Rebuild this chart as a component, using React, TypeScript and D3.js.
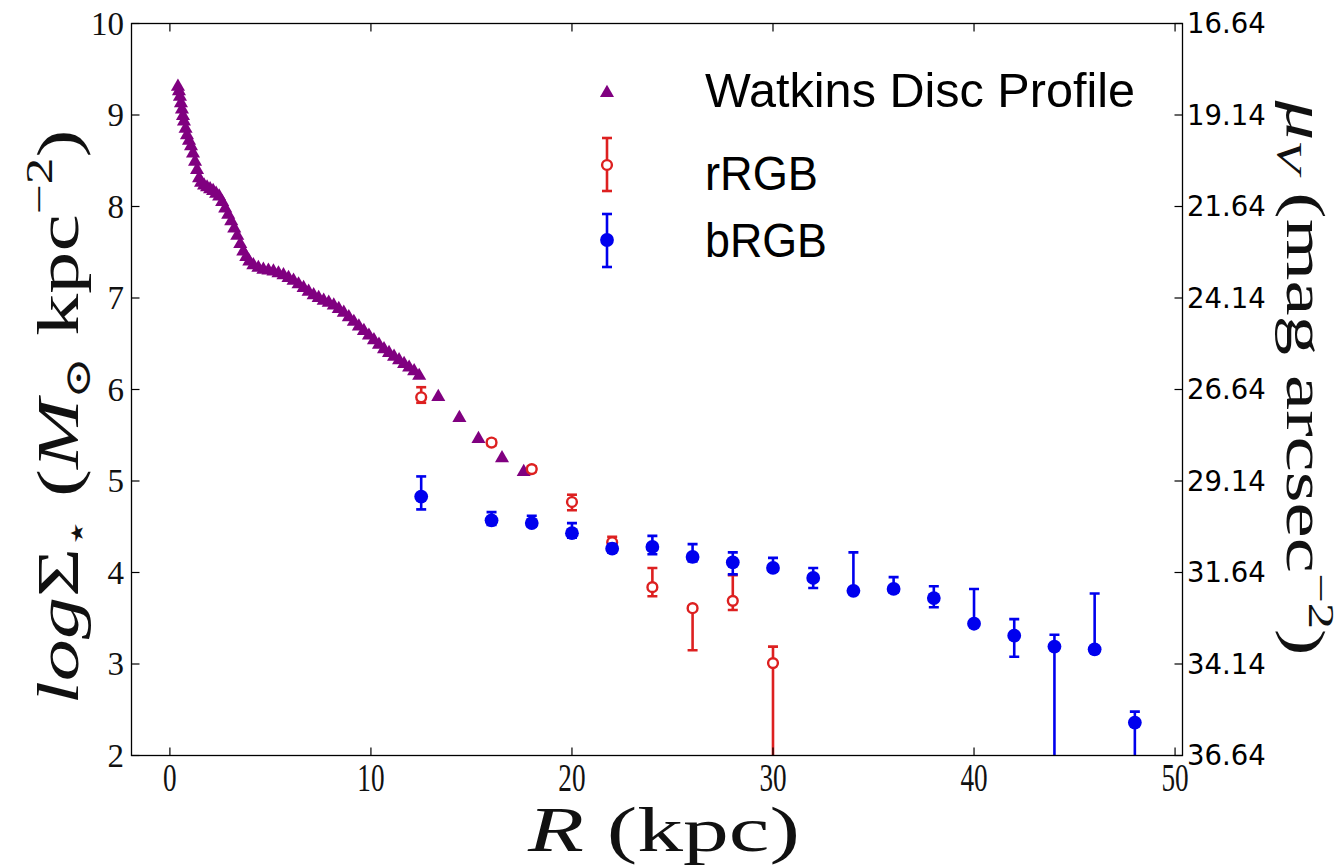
import React from "react";
import * as d3 from "d3";

// Watkins disc surface-density profile (R in kpc, log Sigma)
const discR = [
  0.4, 0.45, 0.5, 0.55, 0.6, 0.65, 0.7, 0.78, 0.85, 0.95, 1.05, 1.15, 1.25, 1.35, 1.45, 1.55,
  1.7, 1.85, 2.0, 2.15, 2.3, 2.45, 2.6, 2.75, 2.9, 3.05, 3.2, 3.35, 3.5, 3.65, 3.8, 3.95,
  4.15, 4.4, 4.65, 4.9, 5.15, 5.4, 5.65, 5.9, 6.15, 6.4, 6.65, 6.9, 7.15, 7.4, 7.65, 7.9,
  8.15, 8.4, 8.65, 8.9, 9.15, 9.4, 9.65, 9.9, 10.15, 10.4, 10.65, 10.9, 11.15, 11.4, 11.65,
  11.9, 12.15, 12.4, 13.35, 14.4, 15.35, 16.52, 17.6,
];
const discLogSigma = [
  9.31, 9.26, 9.2, 9.13, 9.06, 8.99, 8.93, 8.85, 8.78, 8.72, 8.66, 8.58, 8.49, 8.4, 8.31, 8.26,
  8.23, 8.21, 8.19, 8.17, 8.14, 8.11, 8.05, 7.98, 7.91, 7.84, 7.76, 7.68, 7.59, 7.51, 7.45, 7.4,
  7.36, 7.33, 7.31, 7.3, 7.29, 7.27, 7.25, 7.22, 7.19, 7.15, 7.11, 7.07, 7.03, 7.0, 6.97, 6.95,
  6.92, 6.88, 6.84, 6.79, 6.74, 6.69, 6.64, 6.59, 6.54, 6.49, 6.44, 6.4, 6.36, 6.32, 6.28,
  6.24, 6.2, 6.15, 5.92, 5.69, 5.46, 5.25, 5.1,
];

// Red RGB star counts
const rrgbR = [12.5, 16, 18, 20, 22, 24, 26, 28, 30];
const rrgbLogSigma = [5.915, 5.42, 5.13, 4.77, 4.33, 3.84, 3.61, 3.69, 3.01];
const rrgbErrHigh = [0.11, 0.03, 0.03, 0.08, 0.06, 0.21, 0.02, 0.28, 0.18];
const rrgbErrLow = [0.06, 0.03, 0.03, 0.09, 0.05, 0.1, 0.46, 0.1, 1.6];

// Blue RGB star counts
const brgbR = [12.5, 16, 18, 20, 22, 24, 26, 28, 30, 32, 34, 36, 38, 40, 42, 44, 46, 48];
const brgbLogSigma = [4.83, 4.57, 4.54, 4.43, 4.26, 4.28, 4.17, 4.11, 4.05, 3.94, 3.8, 3.82, 3.72, 3.44, 3.31, 3.19, 3.16, 2.36];
const brgbErrHigh = [0.22, 0.09, 0.08, 0.11, 0.05, 0.12, 0.14, 0.11, 0.11, 0.11, 0.42, 0.13, 0.13, 0.38, 0.18, 0.13, 0.61, 0.12];
const brgbErrLow = [0.14, 0.05, 0.04, 0.05, 0.04, 0.08, 0.05, 0.13, 0.04, 0.11, 0.03, 0.04, 0.1, 0.03, 0.23, 1.5, 0.03, 1.0];

// Axis tick values
const xTicks = [0, 10, 20, 30, 40, 50];
const yTicks = [2, 3, 4, 5, 6, 7, 8, 9, 10];
const muTicks = [16.64, 19.14, 21.64, 24.14, 26.64, 29.14, 31.64, 34.14, 36.64];

const W = 1344;
const H = 865;
const plot = { left: 131.5, right: 1182.5, top: 23.5, bottom: 755.5 };

const PURPLE = "#800080";
const RED = "#dd2020";
const BLUE = "#0000ee";
const SERIF = "Liberation Serif, DejaVu Serif, serif";

export default function App() {
  const x = d3.scaleLinear().domain([-1.91, 50.37]).range([plot.left, plot.right]);
  const y = d3.scaleLinear().domain([2, 10]).range([plot.bottom, plot.top]);
  const mu = d3.scaleLinear().domain([36.64, 16.64]).range([plot.bottom, plot.top]);
  const tri = d3.symbol(d3.symbolTriangle, 86)() as string;
  const tick = 8;
  const cap = 5;

  const errorbars = (
    rs: number[],
    vals: number[],
    lo: number[],
    hi: number[],
    color: string,
    key: string
  ) =>
    rs.map((r, i) => {
      const cx = x(r);
      const yTop = y(vals[i] + hi[i]);
      const yBot = y(vals[i] - lo[i]);
      return (
        <g key={`${key}-${i}`} stroke={color} strokeWidth={2.6}>
          <line x1={cx} x2={cx} y1={yTop} y2={yBot} />
          <line x1={cx - cap} x2={cx + cap} y1={yTop} y2={yTop} />
          <line x1={cx - cap} x2={cx + cap} y1={yBot} y2={yBot} />
        </g>
      );
    });

  return (
    <svg
      width={W}
      height={H}
      viewBox={`0 0 ${W} ${H}`}
      style={{ position: "absolute", left: 0, top: 0, background: "#fff" }}
    >
      <defs>
        <clipPath id="plotArea">
          <rect x={plot.left} y={plot.top} width={plot.right - plot.left} height={plot.bottom - plot.top} />
        </clipPath>
      </defs>
      <rect width={W} height={H} fill="#fff" />

      <g clipPath="url(#plotArea)">
        {/* disc profile */}
        {discR.map((r, i) => (
          <path key={`d-${i}`} d={tri} transform={`translate(${x(r)},${y(discLogSigma[i])})`} fill={PURPLE} />
        ))}
        {/* rRGB */}
        {errorbars(rrgbR, rrgbLogSigma, rrgbErrLow, rrgbErrHigh, RED, "r")}
        {rrgbR.map((r, i) => (
          <circle key={`rc-${i}`} cx={x(r)} cy={y(rrgbLogSigma[i])} r={4.9} fill="#fff" stroke={RED} strokeWidth={2.4} />
        ))}
        {/* bRGB */}
        {errorbars(brgbR, brgbLogSigma, brgbErrLow, brgbErrHigh, BLUE, "b")}
        {brgbR.map((r, i) => (
          <circle key={`bc-${i}`} cx={x(r)} cy={y(brgbLogSigma[i])} r={6.9} fill={BLUE} />
        ))}
      </g>

      {/* frame */}
      <rect
        x={plot.left}
        y={plot.top}
        width={plot.right - plot.left}
        height={plot.bottom - plot.top}
        fill="none"
        stroke="#000"
        strokeWidth={1.3}
      />

      {/* x ticks (bottom and top) */}
      {xTicks.map((t) => (
        <g key={`xt-${t}`} stroke="#000" strokeWidth={1.2}>
          <line x1={x(t)} x2={x(t)} y1={plot.bottom} y2={plot.bottom - tick} />
          <line x1={x(t)} x2={x(t)} y1={plot.top} y2={plot.top + tick} />
        </g>
      ))}
      {xTicks.map((t) => (
        <text
          key={`xl-${t}`}
          transform={`translate(${x(t)},791) scale(0.68,1)`}
          textAnchor="middle"
          fontFamily={SERIF}
          fontSize={40}
          fill="#111"
        >
          {t}
        </text>
      ))}

      {/* left y ticks */}
      {yTicks.map((t) => (
        <g key={`yt-${t}`}>
          <line x1={plot.left} x2={plot.left + tick} y1={y(t)} y2={y(t)} stroke="#000" strokeWidth={1.2} />
          <text
            x={124}
            y={y(t)}
            dy="0.34em"
            textAnchor="end"
            fontFamily={SERIF}
            fontSize={33}
            fill="#111"
          >
            {t}
          </text>
        </g>
      ))}

      {/* right mu ticks */}
      {muTicks.map((m) => (
        <g key={`mt-${m}`}>
          <line x1={plot.right} x2={plot.right - tick} y1={mu(m)} y2={mu(m)} stroke="#000" strokeWidth={1.2} />
          <text
            x={1187}
            y={mu(m)}
            dy="0.36em"
            textAnchor="start"
            fontFamily="DejaVu Sans, sans-serif"
            fontSize={27.5}
            fill="#000"
          >
            {m.toFixed(2)}
          </text>
        </g>
      ))}

      {/* axis titles */}
      <text
        x={664}
        y={851}
        textAnchor="middle"
        fontFamily={SERIF}
        fontSize={63}
        textLength={272}
        lengthAdjust="spacingAndGlyphs"
        fill="#111"
      >
        <tspan fontStyle="italic">R</tspan> (kpc)
      </text>

      <text
        transform={`translate(78,417) rotate(-90)`}
        textAnchor="middle"
        fontFamily={SERIF}
        fontSize={60}
        textLength={575}
        lengthAdjust="spacingAndGlyphs"
        fill="#111"
      >
        <tspan fontStyle="italic">log</tspan>
        <tspan>Σ</tspan>
        <tspan fontSize={34} dy={10} fontFamily="DejaVu Sans, sans-serif">⋆</tspan>
        <tspan dy={-10}> (</tspan>
        <tspan fontStyle="italic">M</tspan>
        <tspan fontSize={36} dy={12}>⊙</tspan>
        <tspan dy={-12}> kpc</tspan>
        <tspan fontSize={38} dy={-26}>−2</tspan>
        <tspan dy={26}>)</tspan>
      </text>

      <text
        transform={`translate(1287,378) rotate(90)`}
        textAnchor="middle"
        fontFamily={SERIF}
        fontSize={54}
        textLength={555}
        lengthAdjust="spacingAndGlyphs"
        fill="#111"
      >
        <tspan fontStyle="italic">μ</tspan>
        <tspan fontSize={36} dy={10} fontStyle="italic">V</tspan>
        <tspan dy={-10}> (mag arcsec</tspan>
        <tspan fontSize={36} dy={-22}>−2</tspan>
        <tspan dy={22}>)</tspan>
      </text>

      {/* legend */}
      <g>
        <path d={tri} transform={`translate(607,93)`} fill={PURPLE} />
        <text
          x={705}
          y={107}
          fontFamily="Liberation Sans, sans-serif"
          fontSize={48}
          textLength={430}
          lengthAdjust="spacingAndGlyphs"
          fill="#000"
        >
          Watkins Disc Profile
        </text>

        <g stroke={RED} strokeWidth={2.6}>
          <line x1={607} x2={607} y1={138} y2={191} />
          <line x1={607 - cap} x2={607 + cap} y1={138} y2={138} />
          <line x1={607 - cap} x2={607 + cap} y1={191} y2={191} />
        </g>
        <circle cx={607} cy={165} r={4.9} fill="#fff" stroke={RED} strokeWidth={2.4} />
        <text
          x={705}
          y={190}
          fontFamily="Liberation Sans, sans-serif"
          fontSize={48}
          textLength={113}
          lengthAdjust="spacingAndGlyphs"
          fill="#000"
        >
          rRGB
        </text>

        <g stroke={BLUE} strokeWidth={2.6}>
          <line x1={607} x2={607} y1={214} y2={267} />
          <line x1={607 - cap} x2={607 + cap} y1={214} y2={214} />
          <line x1={607 - cap} x2={607 + cap} y1={267} y2={267} />
        </g>
        <circle cx={607} cy={240} r={6.9} fill={BLUE} />
        <text
          x={705}
          y={257}
          fontFamily="Liberation Sans, sans-serif"
          fontSize={48}
          textLength={122}
          lengthAdjust="spacingAndGlyphs"
          fill="#000"
        >
          bRGB
        </text>
      </g>
    </svg>
  );
}
